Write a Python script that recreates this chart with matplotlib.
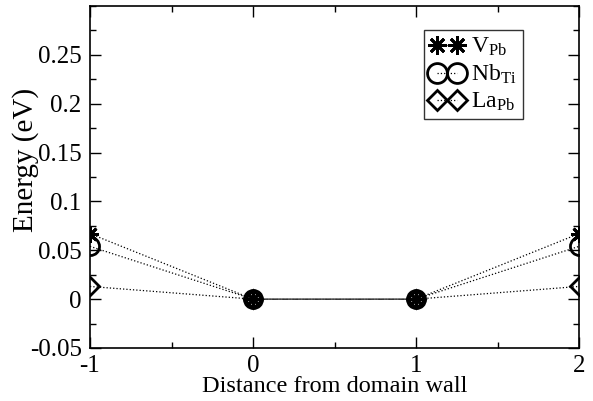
import matplotlib
matplotlib.use("Agg")
import matplotlib.pyplot as plt
from matplotlib.ticker import MultipleLocator

plt.rcParams['font.family'] = ['Liberation Serif']
plt.rcParams['mathtext.fontset'] = 'custom'
plt.rcParams['mathtext.rm'] = 'Liberation Serif'
plt.rcParams['mathtext.it'] = 'Liberation Serif:italic'

distance = [-1, 0, 1, 2]
v_pb = [0.067, 0.0, 0.0, 0.067]
nb_ti = [0.054, 0.0, 0.0, 0.054]
la_pb = [0.013, 0.0, 0.0, 0.013]
labels = [r'V$_{\mathrm{Pb}}$', r'Nb$_{\mathrm{Ti}}$', r'La$_{\mathrm{Pb}}$']

fig = plt.figure(figsize=(5.93, 4.01), dpi=100)
ax = fig.add_axes([90/593, 1-348/401, 489/593, 342/401])

common = dict(color='black', ls=':', lw=0.9, mfc='none', mec='black', mew=2.0)
ax.plot(distance, v_pb, marker=(8, 2, 0), ms=12, label=labels[0], **common)
ax.plot(distance, nb_ti, marker='o', ms=13, label=labels[1], **common)
ax.plot(distance, la_pb, marker='D', ms=9, label=labels[2], **common)

ax.set_xlim(-1, 2)
ax.set_ylim(-0.05, 0.3)
ax.set_xticks([-1, 0, 1, 2])
ax.set_xticklabels(['-1', '0', '1', '2'])
ax.set_yticks([-0.05, 0, 0.05, 0.1, 0.15, 0.2, 0.25])
ax.set_yticklabels(['-0.05', '0', '0.05', '0.1', '0.15', '0.2', '0.25'])
ax.xaxis.set_minor_locator(MultipleLocator(0.5))
ax.yaxis.set_minor_locator(MultipleLocator(0.025))
ax.tick_params(which='both', direction='in', top=True, right=True, labelsize=18)
ax.tick_params(which='major', length=8, width=1)
ax.tick_params(which='minor', length=4, width=1)
ax.tick_params(axis='x', pad=5)
ax.tick_params(axis='y', pad=6)
for s in ax.spines.values():
    s.set_linewidth(1.2)

ax.set_xlabel('Distance from domain wall', fontsize=17.5, labelpad=-1)
ax.set_ylabel('Energy (eV)', fontsize=21)
ax.yaxis.set_label_coords(-0.105, 0.55)

leg = ax.legend(loc='upper right', bbox_to_anchor=(0.885, 0.93), numpoints=2,
                fontsize=17, frameon=True, fancybox=False, edgecolor='black',
                markerscale=1.1, handlelength=1.45, handletextpad=0.3,
                borderpad=0.25, labelspacing=0.2, borderaxespad=0)
leg.get_frame().set_linewidth(1.0)

fig.savefig('out.png', dpi=100)
